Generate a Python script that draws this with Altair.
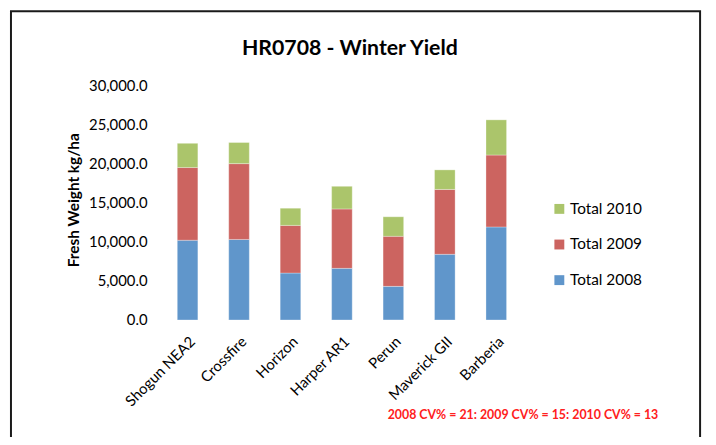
import altair as alt
import pandas as pd

varieties = ["Shogun NEA2", "Crossfire", "Horizon", "Harper AR1", "Perun", "Maverick GII", "Barberia"]
total_2008 = [10200, 10300, 6000, 6600, 4300, 8400, 11900]
total_2009 = [9300, 9700, 6100, 7600, 6400, 8300, 9200]
total_2010 = [3100, 2700, 2200, 2900, 2500, 2500, 4500]
series = ["Total 2008", "Total 2009", "Total 2010"]
colors = ["#6096CB", "#CC6460", "#ABC56B"]
y_ticks = [0, 5000, 10000, 15000, 20000, 25000, 30000]
note = "2008 CV% = 21: 2009 CV% = 15: 2010 CV% = 13"
title = "HR0708 - Winter Yield"

rows = []
for i, v in enumerate(varieties):
    for k, (s, vals) in enumerate(zip(series, [total_2008, total_2009, total_2010])):
        rows.append({"Variety": v, "Series": s, "Value": vals[i], "Order": k})
df = pd.DataFrame(rows)

FONT = "Lato"
W, H = 364, 237

bars = alt.Chart(df).mark_bar(stroke="white", strokeWidth=0.5, strokeOpacity=0.6).encode(
    x=alt.X("Variety:N", sort=varieties, title=None,
            scale=alt.Scale(paddingInner=0.6, paddingOuter=0.3),
            axis=alt.Axis(labelAngle=-45, labelAlign="right", labelBaseline="middle",
                          labelPadding=19, labelOffset=5, ticks=False, domain=False, labelFontSize=15,
                          labelColor="#000000", labelFont=FONT)),
    y=alt.Y("Value:Q", stack="zero", title="Fresh Weight kg/ha",
            scale=alt.Scale(domain=[0, 30000], nice=False),
            axis=alt.Axis(values=y_ticks, format=",.1f", grid=False, ticks=False, domain=False,
                          labelPadding=15, labelFontSize=15, labelColor="#000000", labelFont=FONT,
                          titleFont=FONT, titleFontSize=15.5, titleFontWeight="bold",
                          titleColor="#000000", titleX=-89, titleY=H / 2 - 3,
                          titleAngle=-90, titleAlign="center", titleBaseline="middle")),
    color=alt.Color("Series:N",
                    scale=alt.Scale(domain=series[::-1], range=colors[::-1]),
                    legend=alt.Legend(title=None, orient="none", legendX=394, legendY=117,
                                      symbolType="square", symbolSize=100, symbolStrokeWidth=0,
                                      labelFontSize=15.5, labelFont=FONT, labelColor="#000000",
                                      rowPadding=19, labelOffset=3)),
    order=alt.Order("Order:Q", sort="ascending"),
)

note_layer = alt.Chart(pd.DataFrame({"t": [note]})).mark_text(
    font=FONT, fontSize=12.5, fontWeight="bold", color="#FF2020", align="center", baseline="alphabetic"
).encode(text="t:N", x=alt.value(365), y=alt.value(337))

title_layer = alt.Chart(pd.DataFrame({"t": [title]})).mark_text(
    font=FONT, fontSize=21.5, fontWeight="bold", color="#000000", align="center", baseline="alphabetic"
).encode(text="t:N", x=alt.value(190), y=alt.value(-31))

border = alt.Chart(pd.DataFrame({"a": [0]})).mark_rect(
    fill=None, stroke="#1a1a1a", strokeWidth=2
).encode(x=alt.value(-152.5), x2=alt.value(544), y=alt.value(-75), y2=alt.value(370))

chart = alt.layer(bars, note_layer, title_layer, border).properties(
    width=W, height=H,
    autosize=alt.AutoSizeParams(type="none"),
    padding={"left": 155.5, "top": 76, "right": 188, "bottom": 116},
    background="white",
).configure_view(stroke=None)

chart.save("out.html", embed_options={"renderer": "svg", "actions": False})
